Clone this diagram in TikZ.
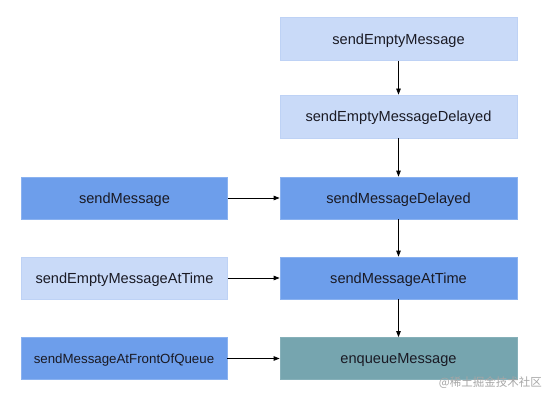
\documentclass[tikz,border=0pt]{standalone}
\usepackage{fontspec}
\setmainfont{Liberation Sans}
\newfontfamily\cjk{Noto Sans CJK SC}
\usetikzlibrary{arrows.meta}
\definecolor{lightblue}{HTML}{C9DAF8}
\definecolor{lightborder}{HTML}{BED2F5}
\definecolor{midblue}{HTML}{6D9EEB}
\definecolor{midborder}{HTML}{8AB2F0}
\definecolor{teal}{HTML}{76A5AF}
\definecolor{tealborder}{HTML}{86B0B9}
\definecolor{ink}{HTML}{1A1A24}
\tikzset{
  box/.style={rectangle, inner sep=0pt, line width=0.8pt, font=\fontsize{14.6}{16}\selectfont, text=ink, text height=10.5pt, text depth=0pt},
  lightbox/.style={box, fill=lightblue, draw=lightborder},
  midbox/.style={box, fill=midblue, draw=midborder},
  tealbox/.style={box, fill=teal, draw=tealborder},
  conn/.style={draw=black, line width=0.8pt, -{Triangle[length=6pt,width=4.5pt]}},
}
\begin{document}
\begin{tikzpicture}[x=1pt,y=-1pt]
\useasboundingbox (0,0) rectangle (554,401);
% right column
\node[lightbox, minimum width=237pt, minimum height=43pt] (sem) at (398.5,39) {sendEmptyMessage};
\node[lightbox, minimum width=237pt, minimum height=43pt] (semd) at (398.5,116.5) {sendEmptyMessageDelayed};
\node[midbox, minimum width=237pt, minimum height=42pt] (smd) at (398.5,198) {sendMessageDelayed};
\node[midbox, minimum width=237pt, minimum height=42pt] (smat) at (398.5,278) {sendMessageAtTime};
\node[tealbox, minimum width=237pt, minimum height=42pt] (enq) at (398.5,358.5) {enqueueMessage};
% left column
\node[midbox, minimum width=206pt, minimum height=42pt] (sm) at (124.5,198) {sendMessage};
\node[lightbox, minimum width=206pt, minimum height=42pt] (semat) at (124.5,278) {sendEmptyMessageAtTime};
\node[midbox, minimum width=206pt, minimum height=42pt, font=\fontsize{13.3}{15}\selectfont, text height=9.5pt] (smfq) at (124,358.5) {sendMessageAtFrontOfQueue};
% connectors
\draw[conn] (sem) -- (semd);
\draw[conn] (semd) -- (smd);
\draw[conn] (smd) -- (smat);
\draw[conn] (smat) -- (enq);
\draw[conn] (sm) -- (smd);
\draw[conn] (semat) -- (smat);
\draw[conn] (smfq) -- (enq);
% watermark
\node[anchor=east, inner sep=0pt, text=black!35, font=\cjk\fontsize{11.5}{13}\selectfont] (wm) at (542,383) {@稀土掘金技术社区};
\end{tikzpicture}
\end{document}
